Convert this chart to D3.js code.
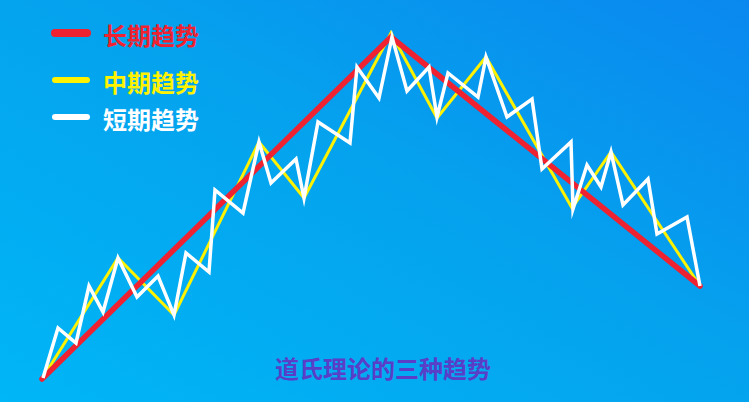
<!DOCTYPE html>
<html>
<head>
<meta charset="utf-8">
<script src="https://cdn.jsdelivr.net/npm/d3@7"></script>
<style>
  html, body { margin: 0; padding: 0; overflow: hidden; }
  svg { display: block; }
</style>
</head>
<body>
<svg id="chart"></svg>
<script>
// trend data, x = time step, y = price level
const longX = [0, 349, 658];
const longY = [2, 344, 95];

const midX = [0, 76, 132, 217, 262, 349, 395, 444, 530, 569, 658];
const midY = [2, 123, 66, 239, 183, 348, 263, 324, 173, 229, 95];

const shortX = [1, 16, 34, 47, 61, 76, 95, 116, 132, 144, 167, 173, 201, 217, 229, 254, 262, 276, 308, 315,
  337, 350, 365, 387, 395, 406, 436, 444, 465, 490, 500, 529, 531, 545, 559, 569, 581, 606, 615, 645, 658];
const shortY = [3, 53, 38, 95, 69, 123, 84, 105, 66, 128, 109, 191, 168, 239, 198, 222, 183, 259, 238, 314,
  283, 344, 290, 314, 264, 308, 284, 324, 264, 282, 212, 239, 172, 216, 194, 229, 176, 202, 147, 164, 95];

const legendNames = ["长期趋势", "中期趋势", "短期趋势"];
const legendColors = ["#ee2230", "#fff200", "#ffffff"];
const title = "道氏理论的三种趋势";

const width = 749, height = 402;
const svg = d3.select("#chart").attr("width", width).attr("height", height);

// background gradient
const defs = svg.append("defs");
const grad = defs.append("linearGradient")
  .attr("id", "bg")
  .attr("x1", "0%").attr("y1", "100%")
  .attr("x2", "100%").attr("y2", "0%");
grad.append("stop").attr("offset", "0%").attr("stop-color", "#00b6f6");
grad.append("stop").attr("offset", "55%").attr("stop-color", "#05a2ee");
grad.append("stop").attr("offset", "100%").attr("stop-color", "#0a88ef");
svg.append("rect").attr("width", width).attr("height", height).attr("fill", "url(#bg)");

const xScale = d3.scaleLinear().domain([0, 658]).range([42, 700]);
const yScale = d3.scaleLinear().domain([0, 348]).range([381, 33]);

const line = d3.line()
  .x((d) => xScale(d[0]))
  .y((d) => yScale(d[1]));

const zip = (xs, ys) => xs.map((x, i) => [x, ys[i]]);

const g = svg.append("g");

// mid-term
g.append("path")
  .datum(zip(midX, midY))
  .attr("d", line)
  .attr("fill", "none")
  .attr("stroke", legendColors[1])
  .attr("stroke-width", 3)
  .attr("stroke-linejoin", "miter");

// long-term
g.append("path")
  .datum(zip(longX, longY))
  .attr("d", line)
  .attr("fill", "none")
  .attr("stroke", legendColors[0])
  .attr("stroke-width", 5.5)
  .attr("stroke-linecap", "round")
  .attr("stroke-linejoin", "miter");

// short-term
g.append("path")
  .datum(zip(shortX, shortY))
  .attr("d", line)
  .attr("fill", "none")
  .attr("stroke", legendColors[2])
  .attr("stroke-width", 3.5)
  .attr("stroke-linejoin", "miter")
  .attr("stroke-miterlimit", 6);

// legend
const legendY = [33, 80, 117];
const legendW = [8, 6, 6];
const legend = svg.append("g");
legendNames.forEach((name, i) => {
  legend.append("line")
    .attr("x1", 55).attr("x2", 87)
    .attr("y1", legendY[i]).attr("y2", legendY[i])
    .attr("stroke", legendColors[i])
    .attr("stroke-width", legendW[i])
    .attr("stroke-linecap", "round");
  legend.append("text")
    .attr("x", 103)
    .attr("y", legendY[i] + 1)
    .attr("dominant-baseline", "central")
    .attr("font-family", "'Noto Sans CJK SC', sans-serif")
    .attr("font-weight", "bold")
    .attr("font-size", 24)
    .attr("fill", legendColors[i])
    .text(name);
});

// title
svg.append("text")
  .attr("x", 383)
  .attr("y", 367)
  .attr("text-anchor", "middle")
  .attr("dominant-baseline", "central")
  .attr("font-family", "'Noto Sans CJK SC', sans-serif")
  .attr("font-weight", "bold")
  .attr("font-size", 24)
  .attr("fill", "#5a3ec8")
  .text(title);
</script>
</body>
</html>
